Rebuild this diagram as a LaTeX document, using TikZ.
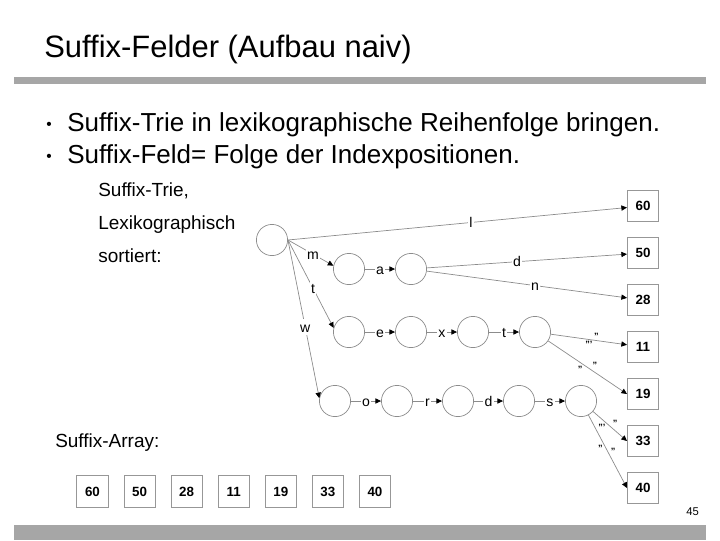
\documentclass[tikz,border=0pt]{standalone}
\usepackage{fontspec}
\setmainfont{Liberation Sans}
\usepackage{tikz}
\usetikzlibrary{arrows.meta,positioning}
\definecolor{barcol}{HTML}{A6A6A6}
\definecolor{linecol}{HTML}{8C8C8C}
\tikzset{
  state/.style={circle,draw=linecol,line width=0.5pt,minimum size=7.8mm,inner sep=0pt},
  posbox/.style={draw=linecol!90,line width=0.6pt,minimum size=7.8mm,inner sep=0pt,
                 font=\fontsize{9.5}{11}\selectfont\bfseries},
  edge/.style={draw=linecol,line width=0.5pt,-{Triangle[length=1.4mm,width=1.3mm,black]}},
  lab/.style={fill=white,inner sep=0.8pt,text height=1.55ex,text depth=.2ex,
              font=\fontsize{10}{12}\selectfont},
  qm/.style={inner sep=0.2pt,font=\fontsize{6.5}{7}\selectfont\bfseries},
  txt/.style={anchor=base west,inner sep=0pt}
}
\begin{document}
\begin{tikzpicture}[x=0.025cm,y=-0.025cm]
  \useasboundingbox (0,0) rectangle (720,540);
  \fill[barcol] (14,77) rectangle (706,84);
  \fill[barcol] (14,525) rectangle (706,540);

  % heading and bullets
  \node[txt,font=\fontsize{22}{26}\selectfont] (title) at (44,57) {Suffix-Felder (Aufbau naiv)};
  \node[txt,font=\fontsize{11}{14}\selectfont] (b1) at (46,129) {\textbullet};
  \node[txt,font=\fontsize{18.5}{22}\selectfont] (l1) at (67,131)
    {Suffix-Trie in lexikographische Reihenfolge bringen.};
  \node[txt,font=\fontsize{11}{14}\selectfont] (b2) at (46,161) {\textbullet};
  \node[txt,font=\fontsize{18.5}{22}\selectfont] (l2) at (67,163)
    {Suffix-Feld= Folge der Indexpositionen.};

  \node[txt,font=\fontsize{13.5}{16}\selectfont] (c1) at (98,196) {Suffix-Trie,};
  \node[txt,font=\fontsize{13.5}{16}\selectfont] (c2) at (98,229) {Lexikographisch};
  \node[txt,font=\fontsize{13.5}{16}\selectfont] (c3) at (98,262) {sortiert:};
  \node[txt,font=\fontsize{13.5}{16}\selectfont] (c4) at (55,447) {Suffix-Array:};
  \node[txt,font=\fontsize{8}{10}\selectfont] (pg) at (686,515) {45};

  % trie nodes
  \node[state] (root) at (272,240) {};
  \node[state] (m1) at (349,269) {};
  \node[state] (m2) at (411,269) {};
  \foreach \x [count=\i] in {349,411,473,535}
    \node[state] (t\i) at (\x,332) {};
  \foreach \x [count=\i] in {335,397,458,519,581}
    \node[state] (w\i) at (\x,401) {};

  % leaves and suffix array
  \foreach \v [count=\i from 0] in {60,50,28,11,19,33,40} {
    \node[posbox] (p\v) at (643,206+47*\i) {\v};
    \node[posbox] (sa\v) at (92.5+47.08*\i,491.5) {\v};
  }

  \draw[edge] (root.east) -- node[lab,pos=.54]{l} (p60);
  \draw[edge] (root.east) -- node[lab,pos=.55]{m} (m1.168);
  \draw[edge] (root.east) -- node[lab,pos=.55]{t} (t1.165);
  \draw[edge] (root.east) -- node[lab,pos=.55]{w} (w1.170);

  \draw[edge] (m1) -- node[lab]{a} (m2);
  \draw[edge] (m2) -- node[lab,pos=.45]{d} (p50);
  \draw[edge] (m2) -- node[lab,pos=.54]{n} (p28);

  \draw[edge] (t1) -- node[lab]{e} (t2);
  \draw[edge] (t2) -- node[lab]{x} (t3);
  \draw[edge] (t3) -- node[lab]{t} (t4);
  \draw[edge] (t4) -- node[qm,pos=.6,above=0.5pt]{"} node[qm,pos=.5,below=0.5pt]{"'} (p11);
  \draw[edge] (t4) -- node[qm,pos=.55,above right=0.5pt]{"} node[qm,pos=.45,below left=0.5pt]{"} (p19.west);

  \draw[edge] (w1) -- node[lab]{o} (w2);
  \draw[edge] (w2) -- node[lab]{r} (w3);
  \draw[edge] (w3) -- node[lab]{d} (w4);
  \draw[edge] (w4) -- node[lab]{s} (w5);
  \draw[edge] (w5) -- node[qm,pos=.55,above right=0.5pt]{"} node[qm,pos=.4,below left=0.5pt]{"'} (p33.west);
  \draw[edge] (w5) -- node[qm,pos=.55,above right=0.5pt]{"} node[qm,pos=.4,below left=0.5pt]{"} (p40.west);
\end{tikzpicture}
\end{document}
